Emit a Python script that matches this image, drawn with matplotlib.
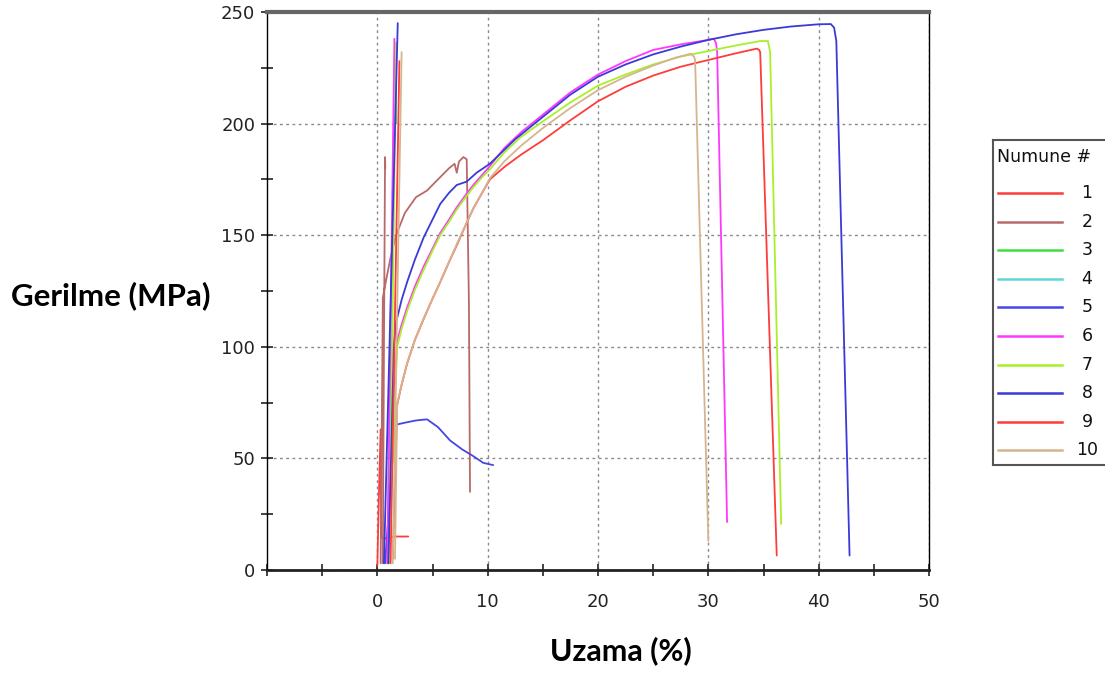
import numpy as np
import matplotlib.pyplot as plt
from matplotlib.ticker import MultipleLocator

nan = np.nan

# specimen colours (Numune #)
labels = ['1', '2', '3', '4', '5', '6', '7', '8', '9', '10']
colors = ['#ff3b3b', '#b86a6a', '#3fe03f', '#5fd6d6', '#4646e6',
          '#ff38ff', '#a8f02a', '#3a3ad8', '#ff3b3b', '#d6b48e']

# strain (%) / stress (MPa), nan = break in the trace
x1 = [0.0, 0.15, 0.3, 0.35, 0.5, 1.5, 2.8]
y1 = [2, 35, 63, 15, 14, 15, 15]

x2 = [0.5, 0.6, 0.7, 0.72, nan, 0.3, 0.5, 0.8, 1.2, 1.7, 2.5, 3.5, 4.5, 5.5, 6.5, 7.0, 7.2, 7.4, 7.8, 8.1, 8.3, 8.4]
y2 = [3, 100, 185, 180, nan, 3, 122, 130, 140, 150, 160, 167, 170, 175, 180, 182, 178, 183, 185, 184, 120, 35]

x3 = [1.0, 1.65, 1.7]
y3 = [3, 236, 200]

x4 = [0.9, 1.6, 1.65]
y4 = [3, 235, 200]

x5 = [0.7, 1.6, 2.5, 3.5, 4.5, 5.5, 6.6, 7.7, 8.7, 9.6, 10.5]
y5 = [3, 65, 66, 67, 67.5, 64, 58, 54, 51, 48, 47]

x6 = [0.9, 1.55, nan, 1.2, 1.8, 2.2, 2.7, 3.4, 4.2, 5.0, 5.7, 6.5, 7.2, 8.0, 8.7, 9.5, 10.2, 11.5, 13,
      15, 17.5, 20, 22.5, 25, 27.5, 30, 30.5, 30.7, 30.8, 31.7]
y6 = [3, 238, nan, 50, 102.7, 110, 117.6, 127, 136, 144, 151, 157, 162.5, 168, 172.5, 177, 181, 189, 196,
      204, 214, 222, 228, 233, 235.5, 237.5, 238, 236, 232, 21.5]

x7 = [1.1, 1.7, nan, 1.3, 1.8, 2.2, 2.7, 3.4, 4.2, 5.0, 5.7, 6.5, 7.2, 8.0, 8.7, 9.5, 10.2, 11.5, 13,
      15, 17.5, 20, 22.5, 25, 27.5, 30, 32.5, 34.7, 35.4, 35.6, 36.6]
y7 = [3, 236, nan, 40, 100, 108, 116, 125.5, 134.5, 143, 150, 156, 161.5, 167, 171.5, 176, 179.5, 187, 194,
      201, 209.5, 217, 222, 226.5, 230, 232.5, 235, 237, 237, 232, 20.6]

x8 = [0.6, 1.85, nan, 1.0, 1.5, 1.7, 2.2, 2.7, 3.4, 4.2, 5.0, 5.7, 6.5, 7.2, 8.1, 9.0, 10.2, 12.5, 15,
      17.5, 20, 22.5, 25, 27.5, 30, 32.5, 35, 37.5, 40, 41.1, 41.4, 41.6, 42.8]
y8 = [3, 245, nan, 3, 100, 111, 121, 129, 139, 149, 157, 164, 169, 172.5, 174, 178, 182, 193, 203,
      213, 221, 226.5, 231, 234.5, 237.5, 240, 242, 243.5, 244.5, 244.6, 243, 237, 6.5]

x9 = [1.2, 2.0, nan, 1.4, 1.8, 2.2, 2.7, 3.4, 4.2, 5.0, 5.7, 6.5, 7.2, 8.0, 8.7, 9.5, 10.2, 11.5, 13,
      15, 17.5, 20, 22.5, 25, 27.5, 30, 32.5, 34.4, 34.6, 34.7, 36.2]
y9 = [3, 228, nan, 5, 74, 83, 92.5, 103, 112.5, 121.5, 129, 138, 145.5, 154.5, 162, 169, 175, 180.5, 186,
      192.5, 201.5, 210, 216.5, 221.5, 225.5, 228.5, 231.5, 233.6, 233, 232, 6.5]

x10 = [1.4, 2.2, nan, 1.6, 1.8, 2.2, 2.7, 3.4, 4.2, 5.0, 5.7, 6.5, 7.2, 8.0, 8.7, 9.5, 10.2, 11.5, 13,
       15, 17.5, 20, 22.5, 25, 27, 28.4, 28.7, 28.8, 30.0]
y10 = [3, 232, nan, 5, 74.5, 83, 92.7, 103, 112.7, 121.5, 129, 138, 146, 154.5, 162, 169, 175.5, 183, 190,
       198, 207, 215, 221, 226, 229.5, 231.3, 230, 228.5, 13]

xs = [x1, x2, x3, x4, x5, x6, x7, x8, x9, x10]
ys = [y1, y2, y3, y4, y5, y6, y7, y8, y9, y10]

W, H = 1105, 676
fig = plt.figure(figsize=(W / 100, H / 100), dpi=100)
ax = fig.add_axes([267 / W, 1 - 570 / H, (929 - 267) / W, (570 - 12) / H])

for x, y, c in zip(xs, ys, colors):
    ax.plot(x, y, color=c, lw=1.3, solid_capstyle='round', solid_joinstyle='round')

ax.set_xlim(-10, 50)
ax.set_ylim(0, 250)
ax.xaxis.set_major_locator(MultipleLocator(10))
ax.xaxis.set_minor_locator(MultipleLocator(5))
ax.yaxis.set_major_locator(MultipleLocator(50))
ax.yaxis.set_minor_locator(MultipleLocator(25))
ax.set_xticks([0, 10, 20, 30, 40, 50])
ax.tick_params(which='both', direction='inout', length=9, width=1.2, color='#222',
               labelsize=13, labelcolor='#222')
ax.tick_params(axis='x', pad=12)
ax.tick_params(axis='y', pad=4)

ax.grid(which='major', color='#8a8a8a', ls=(0, (2, 2.5)), lw=1)
ax.set_axisbelow(True)

ax.spines['bottom'].set_linewidth(2)
ax.spines['bottom'].set_color('#222')
ax.spines['left'].set_linewidth(1)
ax.spines['right'].set_linewidth(1)
ax.spines['top'].set_linewidth(3)
ax.spines['top'].set_color('#666')

fig.text(111 / W, 1 - 296 / H, 'Gerilme (MPa)', family='Lato', weight='bold',
         fontsize=22.5, ha='center', va='center')
fig.text(621 / W, 1 - 651 / H, 'Uzama (%)', family='Lato', weight='bold',
         fontsize=22, ha='center', va='center')

# legend box
lg = fig.add_axes([993 / W, 1 - 465 / H, 125 / W, (465 - 140) / H])
lg.set_xlim(0, 125)
lg.set_ylim(465, 140)
lg.set_xticks([])
lg.set_yticks([])
for s in lg.spines.values():
    s.set_color('#555')
    s.set_linewidth(1.5)
lg.text(4, 157, 'Numune #', fontsize=12.5, va='center', ha='left', color='#111')
for i, (lab, c) in enumerate(zip(labels, colors)):
    yy = 193 + i * 28.6
    lg.plot([5, 69], [yy, yy], color=c, lw=1.8)
    lg.text(94, yy, lab, fontsize=12.5, va='center', ha='center', color='#111')

fig.savefig('out.png', dpi=100)
